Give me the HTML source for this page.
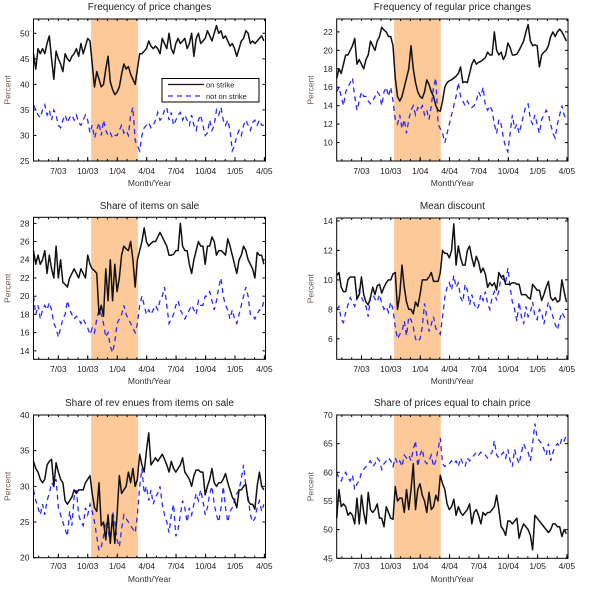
<!DOCTYPE html>
<html><head><meta charset="utf-8"><style>
html,body{margin:0;padding:0;background:#fff;}
svg{display:block;font-family:"Liberation Sans",sans-serif;}
</style></head><body>
<svg id="chart" width="600" height="605" viewBox="0 0 600 605" xmlns="http://www.w3.org/2000/svg"></svg>
<script>
// x positions: week index 0..102 (weekly observations from mid-April 2003)
const tickLabels = ["7/03","10/03","1/04","4/04","7/04","10/04","1/05","4/05"];
const tickWeeks = [11,24,37.1,50.1,63.1,76.2,89.2,102.2];
const strikeStart = 25.5, strikeEnd = 46.2;

const p1Strike = [46,43,47,46,47,46,48,49.5,45,41, 46.5,45,44,42.5,46,45,44.5,45.5,46,47, 45.5,48,46,47.5,49,48.5,44,39.5,42.5,41, 39.5,40,43,45.5,40.5,39,38,38.5,39.5,42, 44,43,43.5,42,41,40,43,46,46,46.5, 47,48.5,47.5,47,47.5,47,46,49,48,47, 50,47,46,48,49,48,48.5,49,47,48, 50,45.5,49,50,48,48.5,49,50.5,49.5,48.5, 50,51.5,50,50.5,49,49.5,48.5,47.5,48,47, 45.5,47,48.5,49,50.5,50,48,48.5,48,48.5, 49,49.5,48.5];
const p1Other = [36,35,34,33.5,35,36,34,35,33,35, 34,32,31.5,33,34,32.5,33.5,34,33,34, 32.5,32,33,34,33,30.5,32,29.5,31,32.5, 30,33,31,30,30.5,29.5,30,30,31,32, 30.5,31,30,34,35.5,29,28,27,30,31.5, 32,32.5,31.5,32,33,34.5,33,33.5,35,35.5, 33,34.5,32,33,34,34.5,33,34,33,32, 34,32,31,33,34,32,30,30.5,33,31, 32,35,34,35.5,33,32,33,31,27,28, 30,31,30,32,33,32,31,32.5,33,32, 33,32,32];
const p2Strike = [17,18,17.5,18.5,19.5,19.5,20,20.5,21.3,18.5, 19,18.5,18,19,19.5,21,20.5,20,21,21.5, 22.5,22.2,22,21.5,21.5,20.5,17,15,14.5,15, 16,17,18,20.5,18,16.5,15.5,15,14.8,15.5, 16.8,16.3,15.5,15,14,13.5,13.4,14.5,16,16.5, 16.7,16.8,17,17.2,17.5,18.2,16.5,16.6,16.5,17.5, 18.5,19,18.5,18.7,18.8,19,19.2,19.8,19.5,19.5, 22,20,19.5,19.8,19,19.5,20.8,20.3,19.5,19.5, 19.6,20,20.5,21,22,22.8,21,20.5,20.6,20.5, 18.2,19.5,19.8,20,20.5,21.5,22,21.5,22,22.3, 22,21.5,21];
const p2Other = [15.5,16,15,14,15.5,16,16.5,17,15,13.5, 14.5,15.5,15,15,14.5,14.2,14.5,15,15.5,15.2, 14,15.5,16,15,16,14.5,12.5,12,13,11.5, 12.5,11,12.5,13.5,14,13,13.8,13.5,14,13, 13.5,12.5,14,16,17,12,11.5,11,10,11, 12,13,14,15,16.5,15,14.5,14,14.5,14, 13.8,14,14.5,15.5,15,16,14,13.5,14,13.5, 12,11,12.5,12,10.5,9.5,9,11,13,11.5, 12,11,12,13,14,14.2,12.5,12,13,12, 11,12.5,13,13.5,13,12,11,10.5,12,13, 14,13,12.5];
const p3Strike = [25,23.5,24.5,23.5,24,25,22.5,24.5,23,22, 25.5,22,24,21.5,21.3,21,22,22.5,23,22.5, 22,23,22.5,22,24.5,23.5,23,22.8,22.5,18, 19,17.8,23,19.5,24,19.5,23.5,20.5,22,24.5, 25.5,25.2,25,26,24,21,24,25,26,27.5, 26,25.5,25.8,26,26,26.5,27,26.5,26,25.5, 24.5,24.5,24.6,25,25,28,25.5,25,25,23.5, 22.5,24,25,26,25.5,25.5,23.5,25.5,25.5,26.5, 26,24.5,25,25,24.8,24.5,26.3,25.5,24.5,23.5, 22.5,24,24.5,25.5,25,24,23.5,23,22,24.8, 24.5,24.5,23.5];
const p3Other = [20,18,19,17.5,18.5,19,18.5,19.3,18.5,17, 16.5,15.5,16.5,17.5,18,19.5,18.5,18,17.5,17.8, 17.5,17,17.5,17,16.5,15.8,16.5,16,17.5,18.5, 18,17,15.5,16,14.5,13.8,15,17,17.5,18, 19,18,17.5,17,16.5,16,17,19,20,19, 18,18.5,18,18.5,19,18.5,19.5,20,21,19, 17,17.5,18,19,19.5,18.5,18,17.5,18,18.5, 19,18.5,18,19.5,19,19,20,20,20.5,19.5, 18.5,19.5,21,22,20,19,18.5,17.5,18.5,17.5, 17,18,19,20,21,20,18,18,17.5,18, 18.5,18.5,19.5];
const p4Strike = [10.3,10.5,9.5,9.2,9.2,10,10.2,10.2,10.2,8.7, 9,10.2,9,8.5,8.3,8.8,9.5,9,9.6,9.7, 9.1,9.5,9.8,10,10,10.4,10.5,8,9,11, 9.5,8.5,8,8,7.7,8.5,8.2,9,10,10, 10,10.2,10.5,9.9,9.9,9.9,10.5,12,11.8,11.8, 11.5,12,13.8,11,12.3,11.5,11,11,12,12.3, 11.5,10.9,11.6,11.2,10.5,10.8,10.4,9.5,9.8,9.6, 9.8,9.3,10.5,10.2,10.3,9.7,9.7,9.7,9.8,9.8, 9.7,9.7,9,9,9,8.8,8.7,9.7,9.5,9.3, 9.3,8.6,9,9.5,9.9,8.8,8.6,8.8,8.5,8.6, 10,9.2,8.5];
const p4Other = [8,8.2,7.3,7.1,7.8,8.3,8.8,8.5,8.2,8.8, 9.3,8.8,8.5,8.2,7.5,8.8,9,8.7,8.5,9, 8.4,8,8.2,7.8,8.5,8,6.8,6,6.3,6.5, 7.2,6.2,7.5,7.3,6.8,6,5.8,6,6.8,8.4, 7.5,6.5,7,7.5,6.7,6.5,6.3,7.5,8.8,9.5, 9.8,9.3,10.3,9.5,9.8,8.8,8.5,9.7,9.3,8.3, 9,8.4,8,8.2,9,8.6,9.2,8.4,8,8.8, 9.2,8.6,9.3,10.2,10,9.8,10.8,9.5,8.5,8, 7.2,8.5,7.5,7,8.2,7.5,7.8,8.5,7.5,7.3, 8,7.8,7,7.8,8.5,8,7.5,7,6.6,7.3, 7.8,7.5,7.2];
const p5Strike = [33.5,32.5,32,31,30.5,31,33,33.5,33.8,30, 33.3,32,31,30.5,28,27.5,28,28.5,29.5,29, 29.5,29.5,29.5,30.5,31,31.5,29,27,26.5,30.5, 24.5,25,22.5,26,22,26,22,26,31.5,29, 29.5,30,32,30.5,32.5,30,31,34.5,33,32, 35,37.5,33,33.5,34,33.5,34,34.5,33.8,33, 32,33.5,32.5,32,32.5,33,34,32,31.5,31, 30,31.5,32.3,32.3,32,32,28.8,30,31,32.5, 30.5,30,30.5,30.5,31,31.8,30.5,29.5,28.5,28, 27,29.5,29.5,30,30.3,28,27.5,27.5,26.8,30, 32,30,29.5];
const p5Other = [29.5,28,27,26,27.5,26,28,29,30.5,30, 31,27,26,25,24,23,26.5,24.5,28.5,29.5, 26,25,24.5,27,26,27.5,26.5,25,23,21, 21.5,23,25,24,22,26.5,25,22.5,21.5,24, 26,25.5,25,24.5,24,23.5,26,30,32.5,29, 30,28,29.5,27.5,28.5,29,30,27.5,26,25, 23.5,26,27.5,23,24,26,28,27,25,27, 26,27.5,29,28,29.5,28,26,27,29,30, 27.5,26,25,27,30,27,25,26.5,27,28, 29,29.5,31,33,30,28.5,26,25,25.5,27, 28,26.5,27.5];
const p6Strike = [52,57,54,54.5,54,52.5,53,52.5,51,55.5, 51,56,53,51,56.5,53.5,53,53.5,54.5,52, 52,50.5,54,53,52,51.8,57.5,55,55.5,55.5, 53,57,53.5,57,61.5,53.5,57,58,56,55, 53,56.5,53.5,54,56,55,59.5,58,57,54.5, 53.5,54,55.3,52.5,54,53,52.5,53,53.5,54.5, 51,53,53.5,52.5,51,53,52.5,53,53,53.5, 54,56,53.5,50.5,50,49,51.5,51.5,51,51.5, 52,48.5,50,51,50.5,50,49,46.5,52.5,52, 51.5,51,50.5,50,49.5,50,51,51,50.5,50.5, 48.8,50,49.3];
const p6Other = [60,59,58.5,59.5,60,59,58.5,59.5,57,58, 58.5,60,60.5,61,61.5,62,61,61.5,62.5,62, 60.5,61.5,62,62.5,62,61,62.5,61.5,62,61, 63,62.5,63,62,64,65.5,61,63,64,62, 61.5,62,63,61,62,64,66,61.5,61,61.5, 61.5,62,61.5,62,61,62.5,61.5,61,62.5,62, 62.5,63,63.5,63,63.5,63,63,62.5,63,63.5, 65.5,63,62.5,63,63.5,62.5,64,62,61,64, 62.5,61.5,63.5,65,64,63.5,62,65,68.5,66, 65.5,65,64,63,65,62,63.5,64.5,65,64.5, 66,65.5,66.5];

const p1Ticks=[25,30,35,40,45,50], p2Ticks=[10,12,14,16,18,20,22], p3Ticks=[14,16,18,20,22,24,26,28],
      p4Ticks=[6,8,10,12,14], p5Ticks=[20,25,30,35,40], p6Ticks=[45,50,55,60,65,70];

const NS="http://www.w3.org/2000/svg";
const svg=document.getElementById('chart');
function mk(tag,attrs,parent){const e=document.createElementNS(NS,tag);for(const k in attrs)e.setAttribute(k,attrs[k]);(parent||svg).appendChild(e);return e;}

const panels=[
 {key:'freq-price-changes',title:'Frequency of price changes',x0:33.5,x1:265.5,y0:19,y1:161,dmin:25,dmax:52.8,ticks:p1Ticks,s:p1Strike,o:p1Other,ty:10,tly:174,mly:186,legend:true},
 {key:'freq-regular-price-changes',title:'Frequency of regular price changes',x0:336.7,x1:568,y0:19,y1:161,dmin:8.0,dmax:23.4,ticks:p2Ticks,s:p2Strike,o:p2Other,ty:10,tly:174,mly:186},
 {key:'share-items-on-sale',title:'Share of items on sale',x0:33.5,x1:265.5,y0:217.3,y1:359.3,dmin:13.07,dmax:28.66,ticks:p3Ticks,s:p3Strike,o:p3Other,ty:209,tly:372,mly:384},
 {key:'mean-discount',title:'Mean discount',x0:336.7,x1:568,y0:218,y1:359.3,dmin:4.61,dmax:14.2,ticks:p4Ticks,s:p4Strike,o:p4Other,ty:209,tly:372,mly:384},
 {key:'share-revenues-on-sale',title:'Share of rev enues from items on sale',x0:33.5,x1:265.5,y0:415,y1:557.7,dmin:20,dmax:40,ticks:p5Ticks,s:p5Strike,o:p5Other,ty:406,tly:569,mly:582},
 {key:'share-chain-price',title:'Share of prices equal to chain price',x0:336.7,x1:568,y0:415,y1:558.3,dmin:45,dmax:70,ticks:p6Ticks,s:p6Strike,o:p6Other,ty:406,tly:569,mly:582}
];
const WMAX=102.7;

panels.forEach(p=>{
  const g=mk('g',{});
  
  
  const xs=w=>p.x0+(p.x1-p.x0)*w/WMAX;
  const ys=v=>p.y1-(p.y1-p.y0)*(v-p.dmin)/(p.dmax-p.dmin);
  const sh=mk('rect',{x:xs(strikeStart),y:p.y0,width:xs(strikeEnd)-xs(strikeStart),height:p.y1-p.y0,fill:'#fdc998'},g);
  
  
  function path(arr,attrs,name){
    let d='';arr.forEach((v,i)=>{d+=(i?'L':'M')+xs(i).toFixed(2)+','+ys(v).toFixed(2);});
    const e=mk('path',Object.assign({d:d,fill:'none'},attrs),g);
    
    
  }
  path(p.o,{stroke:'#2a2aff','stroke-width':1.3,'stroke-dasharray':'5,4'},'not-on-strike-line');
  path(p.s,{stroke:'#111','stroke-width':1.5,'stroke-linejoin':'round'},'on-strike-line');
  const fr=mk('rect',{x:p.x0,y:p.y0,width:p.x1-p.x0,height:p.y1-p.y0,fill:'none',stroke:'#000','stroke-width':1},g);
  
  
  // y ticks
  p.ticks.forEach(v=>{
    const y=ys(v);
    mk('line',{x1:p.x0,x2:p.x0+3,y1:y,y2:y,stroke:'#000'},g);
    mk('line',{x1:p.x1,x2:p.x1-3,y1:y,y2:y,stroke:'#000'},g);
    const t=mk('text',{x:p.x0-4,y:y+3,'font-size':8.5,'text-anchor':'end',fill:'#222'},g);
    t.textContent=v;
    
    
  });
  // minor monthly ticks
  for(let m=-3;m<=22;m++){
    const w=11+m*4.345; if(w<0||w>WMAX) continue;
    const x=xs(w);
    mk('line',{x1:x,x2:x,y1:p.y1,y2:p.y1-2,stroke:'#000'},g);
    mk('line',{x1:x,x2:x,y1:p.y0,y2:p.y0+2,stroke:'#000'},g);
  }
  tickWeeks.forEach((w,i)=>{
    const x=xs(w);
    mk('line',{x1:x,x2:x,y1:p.y1,y2:p.y1-4,stroke:'#000'},g);
    const t=mk('text',{x:x,y:p.tly,'font-size':8.5,'text-anchor':'middle',fill:'#222'},g);
    t.textContent=tickLabels[i];
    
    
  });
  const ti=mk('text',{x:(p.x0+p.x1)/2,y:p.ty,'font-size':10,'text-anchor':'middle',fill:'#222'},g);
  ti.textContent=p.title;
  
  
  const xl=mk('text',{x:(p.x0+p.x1)/2,y:p.mly,'font-size':8.5,'text-anchor':'middle',fill:'#333'},g);
  xl.textContent='Month/Year';
  
  
  const yx=p.x0-23, yc=(p.y0+p.y1)/2;
  const yl=mk('text',{x:yx,y:yc,'font-size':8.5,'text-anchor':'middle',fill:'#6b5a50',transform:'rotate(-90 '+yx+' '+yc+')'},g);
  yl.textContent='Percent';
  
  
  if(p.legend){
    const lg=mk('g',{},g);
    
    
    mk('rect',{x:162,y:78.5,width:97,height:23.5,fill:'#fff',stroke:'#000','stroke-width':1},lg);
    mk('line',{x1:168,x2:204,y1:84.5,y2:84.5,stroke:'#111','stroke-width':1.2},lg);
    mk('line',{x1:168,x2:204,y1:96,y2:96,stroke:'#2a2aff','stroke-width':1.2,'stroke-dasharray':'5,4'},lg);
    const a=mk('text',{x:206,y:87.5,'font-size':7.5,fill:'#222'},lg);a.textContent='on strike';
    
    
    const b=mk('text',{x:206,y:99,'font-size':7.5,fill:'#222'},lg);b.textContent='not on strike';
    
    
  }
});
</script>
</body></html>
